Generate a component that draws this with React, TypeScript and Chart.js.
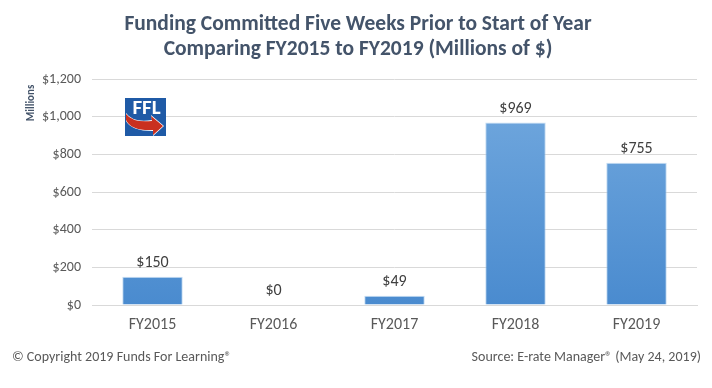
import React, { useEffect, useRef } from "react";
import { Chart, registerables } from "chart.js";

Chart.register(...registerables);

const categories = ["FY2015", "FY2016", "FY2017", "FY2018", "FY2019"];
const funding = [150, 0, 49, 969, 755];
const titleLines = [
  "Funding Committed Five Weeks Prior to Start of Year",
  "Comparing FY2015 to FY2019 (Millions of $)",
];
const yAxisTitle = "Millions";
const footerLeft = "© Copyright 2019 Funds For Learning®";
const footerRight = "Source: E-rate Manager® (May 24, 2019)";

const FONT = "Carlito, Calibri, Lato, 'Open Sans', sans-serif";
const money = (v: number) => "$" + v.toLocaleString("en-US");

const decorPlugin = {
  id: "decor",
  afterDraw(chart: any) {
    const ctx = chart.ctx as CanvasRenderingContext2D;
    ctx.save();
    // title
    ctx.fillStyle = "#44546a";
    ctx.textAlign = "center";
    ctx.textBaseline = "middle";
    ctx.font = `bold 21.5px ${FONT}`;
    ctx.fillText(titleLines[0], 358, 25);
    ctx.fillText(titleLines[1], 358, 50);
    // y axis title
    ctx.save();
    ctx.translate(31, 103);
    ctx.rotate(-Math.PI / 2);
    ctx.font = `bold 11px ${FONT}`;
    ctx.fillStyle = "#44546a";
    ctx.fillText(yAxisTitle, 0, 0);
    ctx.restore();
    // footer
    ctx.fillStyle = "#595959";
    ctx.font = `14px ${FONT}`;
    ctx.textAlign = "left";
    ctx.fillText(footerLeft, 12, 357);
    ctx.textAlign = "right";
    ctx.fillText(footerRight, 701, 357);
    // data labels
    const meta = chart.getDatasetMeta(0);
    ctx.fillStyle = "#404040";
    ctx.font = `16px ${FONT}`;
    ctx.textAlign = "center";
    ctx.textBaseline = "bottom";
    meta.data.forEach((bar: any, i: number) => {
      ctx.fillText(money(funding[i]), bar.x, bar.y - 6);
    });
    // logo
    const lx = 125, ly = 98, lw = 41, lh = 38;
    ctx.fillStyle = "#1f5aa6";
    ctx.fillRect(lx, ly, lw, lh);
    ctx.fillStyle = "#ffffff";
    ctx.font = `bold 21px ${FONT}`;
    ctx.textAlign = "center";
    ctx.textBaseline = "top";
    ctx.fillText("FFL", lx + lw / 2 + 1, ly);
    // arrow
    const drawArrow = (color: string, extra: number) => {
      ctx.fillStyle = color;
      ctx.beginPath();
      ctx.moveTo(lx + 1, ly + 16 - extra);
      ctx.quadraticCurveTo(lx + 8, ly + 25, lx + 27, ly + 23 - extra);
      ctx.lineTo(lx + 26, ly + 18 - extra);
      ctx.lineTo(lx + 38 + extra, ly + 28);
      ctx.lineTo(lx + 28, ly + 37 + extra);
      ctx.lineTo(lx + 28, ly + 32 + extra);
      ctx.quadraticCurveTo(lx + 6, ly + 33, lx + 1, ly + 22 + extra);
      ctx.closePath();
      ctx.fill();
    };
    drawArrow("#ffffff", 1);
    drawArrow("#c9301f", 0);
    ctx.restore();
  },
};

export default function App() {
  const ref = useRef<HTMLCanvasElement | null>(null);
  useEffect(() => {
    document.body.style.margin = "0";
    const canvas = ref.current!;
    const ctx = canvas.getContext("2d")!;
    const grad = ctx.createLinearGradient(0, 79, 0, 305);
    grad.addColorStop(0, "#74aadf");
    grad.addColorStop(1, "#4a8bcf");
    const chart = new Chart(canvas, {
      type: "bar",
      data: {
        labels: categories,
        datasets: [
          {
            data: funding,
            backgroundColor: grad,
            borderColor: "rgba(160,200,235,0.6)",
            borderWidth: 1,
            categoryPercentage: 1,
            barPercentage: 0.5,
          },
        ],
      },
      options: {
        animation: false,
        responsive: false,
        layout: { padding: { top: 79, right: 15, bottom: 43, left: 0 } },
        plugins: {
          legend: { display: false },
          title: { display: false },
          tooltip: { enabled: false },
        },
        scales: {
          x: {
            grid: { display: false, drawTicks: false },
            border: { display: true, color: "#d9d9d9" },
            ticks: {
              color: "#595959",
              font: { family: FONT, size: 16 },
              padding: 10,
            },
            afterFit: (s: any) => {
              s.height = 40;
            },
          },
          y: {
            min: 0,
            max: 1200,
            grid: { color: "#d9d9d9", drawTicks: false },
            border: { display: false },
            ticks: {
              stepSize: 200,
              color: "#595959",
              font: { family: FONT, size: 14 },
              padding: 11,
              callback: (v: any) => money(Number(v)),
            },
            afterFit: (s: any) => {
              s.width = 92;
            },
          },
        },
      },
      plugins: [decorPlugin],
    });
    return () => chart.destroy();
  }, []);
  return (
    <div style={{ width: 712, height: 388, background: "#fff" }}>
      <canvas ref={ref} width={712} height={388} />
    </div>
  );
}
